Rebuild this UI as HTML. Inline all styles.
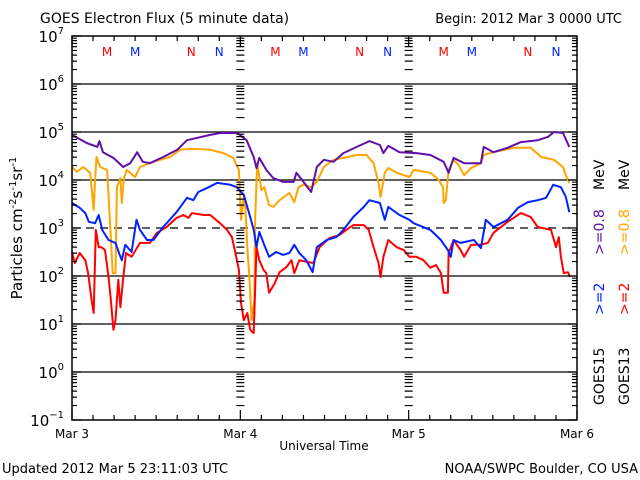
<!DOCTYPE html>
<html><head><meta charset="utf-8">
<style>
html,body{margin:0;padding:0;background:#fff;}
svg{display:block;font-family:"DejaVu Sans","Liberation Sans",sans-serif;}
</style></head>
<body>
<svg id="chart" width="640" height="480" viewBox="0 0 640 480" xmlns="http://www.w3.org/2000/svg">
<rect width="640" height="480" fill="#fff"/>
<text x="40" y="23" font-size="14" fill="#000">GOES Electron Flux (5 minute data)</text>
<text x="622" y="23" font-size="13" text-anchor="end" fill="#000">Begin: 2012 Mar 3 0000 UTC</text>
<text transform="translate(22,228) rotate(-90)" font-size="15" text-anchor="middle" fill="#000">Particles cm<tspan font-size="10" dy="-6">-2</tspan><tspan dy="6">s</tspan><tspan font-size="10" dy="-6">-1</tspan><tspan dy="6">sr</tspan><tspan font-size="10" dy="-6">-1</tspan></text>
<text x="324" y="450" font-size="12" text-anchor="middle" fill="#000">Universal Time</text>
<text x="2" y="473" font-size="13" fill="#000">Updated 2012 Mar  5 23:11:03 UTC</text>
<text x="638" y="473" font-size="13" text-anchor="end" fill="#000">NOAA/SWPC Boulder, CO USA</text>
<g transform="translate(604,405) rotate(-90)" font-size="14">
<text x="0" y="0" fill="#000">GOES15</text>
<text x="90" y="0" fill="#0022ff">&gt;=2</text>
<text x="150" y="0" fill="#6010a8">&gt;=0.8</text>
<text x="215" y="0" fill="#000">MeV</text>
</g>
<g transform="translate(629,405) rotate(-90)" font-size="14">
<text x="0" y="0" fill="#000">GOES13</text>
<text x="90" y="0" fill="#ff0000">&gt;=2</text>
<text x="150" y="0" fill="#ffa500">&gt;=0.8</text>
<text x="215" y="0" fill="#000">MeV</text>
</g>
<g id="grid"></g>
<g id="series"></g>
<g id="axes"></g>
</svg>
<script>
const dayLabels = ["Mar 3","Mar 4","Mar 5","Mar 6"];
const yTickExps = [7,6,5,4,3,2,1,0,-1];
const markLetters = ["M","M","N","N"];
const markHours = [5.0,9.0,17.0,21.0];
const markColors = ["#ff0000","#0022ff","#ff0000","#0022ff"];

const purpleT = [0,2.1,3.6,3.9,4.4,5.9,7.3,8.3,9.3,10.1,11.1,13,15,16.4,17.9,19.7,21.1,23.6,24.9,25.9,26.3,26.7,27.7,28.7,30.1,31.6,32,33,34.1,34.9,35.9,37.3,38.7,40.6,42.4,43.9,44.4,45.1,46.7,49.1,51.1,53,53.7,54.4,55.9,58.3,58.7,60.1,62.1,64,66.4,67.9,68.7,70,70.9];
const purpleV = [4.94,4.77,4.69,4.81,4.58,4.46,4.27,4.35,4.58,4.38,4.35,4.48,4.63,4.83,4.88,4.94,4.98,4.98,4.83,4.48,4.25,4.46,4.21,4.04,3.96,3.96,4.15,3.96,3.75,4.27,4.42,4.38,4.56,4.69,4.81,4.73,4.56,4.71,4.58,4.56,4.52,4.38,4.15,4.46,4.35,4.35,4.69,4.58,4.67,4.79,4.83,4.90,5.0,4.98,4.69];

const orangeT = [0,0.7,1.6,2.6,3.1,3.3,3.5,4,5,5.4,5.8,6.2,6.4,6.9,7.1,7.4,7.8,9,9.7,11.6,14,15.4,16.9,19.7,21.6,23,23.8,24.1,24.5,24.7,25,25.3,25.6,26.0,26.1,26.4,27,27.4,28.1,28.7,29.6,31,31.7,32.3,33,34.1,34.9,35.9,37.3,38.7,40.6,42,43,43.7,44,44.6,45.1,46.3,48.1,48.7,51.1,52.3,52.9,53,53.3,53.7,54.4,55.1,55.9,56.9,58.3,58.7,60.1,63,65.4,66.9,68.7,70,70.4,70.9];
const orangeV = [4.27,4.17,4.27,4.15,3.38,4.0,4.48,4.27,4.21,3.17,2.06,2.06,3.85,4.04,3.52,4.04,4.21,4.06,4.27,4.38,4.48,4.63,4.65,4.63,4.56,4.46,4.21,3.17,3.65,3.52,2.6,1.92,1.08,1.5,3.17,4.35,3.79,3.85,3.48,3.44,3.58,3.73,3.54,3.85,3.9,3.85,3.96,4.27,4.42,4.46,4.52,4.52,4.35,3.94,3.65,4.15,4.25,4.15,4.06,4.21,4.15,4.0,3.85,3.52,3.58,4.21,4.42,4.31,4.1,4.25,4.35,4.52,4.58,4.67,4.67,4.48,4.42,4.27,4.1,3.94];

const blueT = [0,1.1,1.9,2.4,3.3,3.8,4.3,5.2,6.2,6.7,7.1,7.6,8.5,9.2,9.7,10.7,11.6,13,14.9,16.4,17.3,18,19.2,20.7,22.6,23.5,24.5,25.4,25.9,26.3,26.7,27.4,28.1,29.1,30.1,31,31.7,32.4,33.4,34.3,34.9,36.3,37.7,38.7,40.1,41.6,42.4,43.9,44.6,45.1,46.7,48.1,48.7,51.1,52.6,53.6,54,54.4,55.4,57.3,58.3,59,60.1,62.1,63.6,65,66.4,67.6,68.6,69.7,70.4,70.9];
const blueV = [3.52,3.42,3.31,3.13,3.1,3.27,2.96,2.75,2.69,2.48,2.33,2.65,2.5,3.17,2.96,2.75,2.75,3.02,3.33,3.63,3.58,3.75,3.83,3.94,3.9,3.85,3.69,3.23,2.96,2.6,2.92,2.65,2.4,2.5,2.44,2.48,2.65,2.48,2.33,2.08,2.6,2.75,2.81,2.96,3.23,3.44,3.58,3.52,3.17,3.44,3.27,3.17,3.1,2.96,2.75,2.54,2.4,2.75,2.69,2.75,2.58,3.17,3.02,3.17,3.42,3.54,3.58,3.63,3.9,3.85,3.65,3.33];

const redT = [0,0.4,1.1,1.9,2.3,2.8,3.1,3.4,3.8,4.2,4.7,5.2,5.5,5.9,6.2,6.6,6.9,7.3,7.7,8.5,9.7,11.1,12.1,13.5,14.9,15.9,16.6,17.1,18.8,19.7,21.1,22.1,22.8,23.3,23.8,24.1,24.5,25,25.4,25.9,26.3,26.7,27.3,27.7,28.1,28.9,29.6,30.6,31.3,31.7,32.4,33.7,34.4,35.3,36.7,38.1,39.1,40.1,41.6,42.3,43,43.7,44,44.4,45.1,46.3,47.3,48.1,49.1,50.1,51.1,51.9,52.6,53,53.6,53.7,54.4,55.4,55.9,56.9,58.3,59.3,60.1,62.1,64,65.4,66.4,68.3,69,69.4,69.7,70.1,70.7,71];
const redV = [2.5,2.27,2.48,2.33,2.06,1.5,1.23,2.96,2.6,2.6,2.54,1.98,1.56,0.88,1.08,1.92,1.35,1.96,2.48,2.4,2.69,2.69,2.9,3.02,3.21,3.27,3.21,3.31,3.27,3.27,3.1,2.96,2.81,2.48,2.13,1.44,1.08,1.23,0.88,0.81,2.6,2.33,2.13,2.06,1.65,1.85,2.08,2.19,2.33,2.06,2.33,2.29,2.27,2.6,2.79,2.85,2.96,3.06,3.06,2.96,2.6,2.27,1.98,2.4,2.75,2.6,2.54,2.4,2.4,2.33,2.17,2.23,2.06,1.65,1.65,2.48,2.75,2.54,2.4,2.65,2.65,2.69,2.9,3.13,3.31,3.23,3.02,2.96,2.6,2.81,2.4,2.06,2.08,1.98];

const X0 = 72, X1 = 577, Y0 = 36, Y1 = 420;
const xScale = h => X0 + (X1 - X0) * h / 72;
const yScale = e => Y0 + (7 - e) * (Y1 - Y0) / 8;
const NS = "http://www.w3.org/2000/svg";
function mk(tag, parent){ const el = document.createElementNS(NS, tag); parent.appendChild(el); return el; }
const grid = document.getElementById('grid'), series = document.getElementById('series'), axes = document.getElementById('axes');

yTickExps.forEach(e => {
  if (e === 7 || e === -1) return;
  const l = mk('line', grid);
  
  
  l.setAttribute('x1', X0); l.setAttribute('x2', X1);
  l.setAttribute('y1', yScale(e)); l.setAttribute('y2', yScale(e));
  l.setAttribute('stroke', '#000'); l.setAttribute('stroke-width', '1.3');
  if (e === 3) l.setAttribute('stroke-dasharray', '8,6');
});

function drawSeries(T, V, color, name){
  const p = mk('polyline', series);
  
  
  let pts = '';
  for (let i = 0; i < T.length; i++) {
    pts += xScale(T[i]).toFixed(1) + ',' + yScale(V[i]).toFixed(1) + ' ';
  }
  p.setAttribute('points', pts);
  p.setAttribute('fill', 'none'); p.setAttribute('stroke', color);
  p.setAttribute('stroke-width', '2'); p.setAttribute('stroke-linejoin', 'round');
}
drawSeries(orangeT, orangeV, '#ffa500', 'goes13-0.8mev-series');
drawSeries(purpleT, purpleV, '#6010a8', 'goes15-0.8mev-series');
drawSeries(redT, redV, '#ff0000', 'goes13-2mev-series');
drawSeries(blueT, blueV, '#0022ff', 'goes15-2mev-series');

const fr = mk('rect', axes);


fr.setAttribute('x', X0); fr.setAttribute('y', Y0);
fr.setAttribute('width', X1 - X0); fr.setAttribute('height', Y1 - Y0);
fr.setAttribute('fill', 'none'); fr.setAttribute('stroke', '#000'); fr.setAttribute('stroke-width', '1.5');

let tickPath = '';
yTickExps.forEach(e => {
  const y = yScale(e);
  if (e > -1) {
    for (let m = 2; m <= 9; m++) {
      const yy2 = yScale(e - 1 + Math.log10(m));
      tickPath += `M${X0},${yy2}h5M${X1},${yy2}h-5`;
      [xScale(24), xScale(48)].forEach(x => { tickPath += `M${x-4},${yy2}h8`; });
    }
  }
  tickPath += `M${X0},${y}h9M${X1},${y}h-9`;
  const t = mk('text', axes);
  
  
  t.setAttribute('x', 64); t.setAttribute('y', y + 6);
  t.setAttribute('font-size', '15'); t.setAttribute('text-anchor', 'end');
  t.innerHTML = '10<tspan font-size="10" dy="-8">' + (e < 0 ? '\u2212' + (-e) : e) + '</tspan>';
});
for (let h = 0; h <= 72; h += 3) {
  const x = xScale(h);
  const len = (h % 24 === 0) ? 10 : 5;
  tickPath += `M${x},${Y1}v${-len}M${x},${Y0}v${len}`;
}
const tp = mk('path', axes);


tp.setAttribute('d', tickPath); tp.setAttribute('stroke', '#000'); tp.setAttribute('stroke-width', '1.2'); tp.setAttribute('fill', 'none');

dayLabels.forEach((lab, i) => {
  const t = mk('text', axes);
  
  
  t.setAttribute('x', xScale(i * 24)); t.setAttribute('y', 438);
  t.setAttribute('font-size', '12'); t.setAttribute('text-anchor', 'middle');
  t.textContent = lab;
});
for (let d = 0; d < 3; d++) {
  markLetters.forEach((L, i) => {
    const t = mk('text', axes);
    
    
    t.setAttribute('x', xScale(d * 24 + markHours[i])); t.setAttribute('y', 56);
    t.setAttribute('font-size', '12'); t.setAttribute('text-anchor', 'middle');
    t.setAttribute('fill', markColors[i]);
    t.textContent = L;
  });
}
</script>
</body></html>
